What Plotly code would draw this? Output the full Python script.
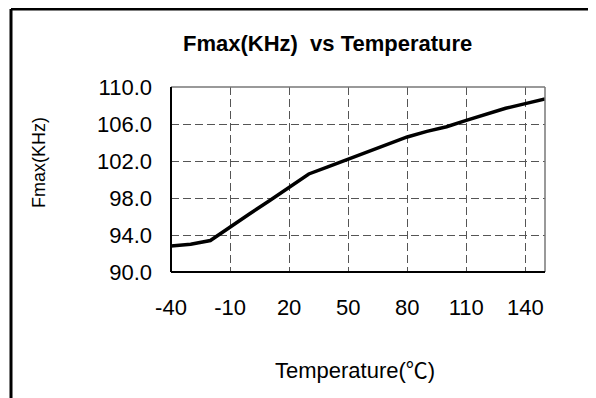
import plotly.graph_objects as go

# ---- data ----
temperature = [-40, -30, -20, -10, 0, 10, 20, 30, 40, 50, 60, 70, 80, 90, 100, 110, 120, 130, 140, 150]
fmax_khz = [92.8, 93.0, 93.4, 94.9, 96.3, 97.7, 99.1, 100.6, 101.4, 102.2,
            103.0, 103.8, 104.6, 105.2, 105.7, 106.4, 107.1, 107.7, 108.2, 108.7]
x_tick_vals = [-40, -10, 20, 50, 80, 110, 140]
x_tick_text = ["-40", "-10", "20", "50", "80", "110", "140"]
y_tick_vals = [90, 94, 98, 102, 106, 110]
y_tick_text = ["90.0", "94.0", "98.0", "102.0", "106.0", "110.0"]

chart_title = "Fmax(KHz)  vs Temperature"
x_title = "Temperature(<span style='font-family:Noto Sans CJK SC'>℃</span>)"
y_title = "Fmax(KHz)"

# ---- layout geometry (page pixels; page body has an 8px margin) ----
OFF = 8
W, H = 596 - OFF, 398 - OFF
L, R, T, B = 171, 545, 87, 272
FONT = "Liberation Sans, Arial, sans-serif"


def px_x(p):
    return (p - L) / (R - L)


def px_y(p):
    return (B - p) / (B - T)


fig = go.Figure()
fig.add_trace(go.Scatter(
    x=temperature, y=fmax_khz, mode="lines",
    line=dict(color="black", width=3.5),
    showlegend=False, hoverinfo="x+y",
))

grid = dict(showgrid=True, gridcolor="#555555", griddash="8px,4px", gridwidth=1)

fig.update_layout(
    width=W, height=H,
    margin=dict(l=L - OFF, r=W - (R - OFF), t=T - OFF, b=H - (B - OFF), pad=0),
    paper_bgcolor="white", plot_bgcolor="white",
    font=dict(family=FONT, color="black", size=22),
    xaxis=dict(range=[-40, 150], tickvals=x_tick_vals, ticktext=x_tick_text, ticks="",
               showline=False, zeroline=False, ticklabelstandoff=20,
               tickfont=dict(size=22), **grid),
    yaxis=dict(range=[90, 110], tickvals=y_tick_vals, ticktext=y_tick_text, ticks="",
               showline=False, zeroline=False, ticklabelstandoff=18,
               tickfont=dict(size=22), **grid),
)

shapes = [
    # top and right plot border (grey)
    dict(type="line", xref="paper", yref="paper", x0=0, x1=1, y0=1, y1=1,
         line=dict(color="#777777", width=1.5)),
    dict(type="line", xref="paper", yref="paper", x0=1, x1=1, y0=0, y1=1,
         line=dict(color="#777777", width=1.5)),
    # left and bottom axes (black)
    dict(type="line", xref="paper", yref="paper", x0=0, x1=0, y0=0, y1=1,
         line=dict(color="black", width=2)),
    dict(type="line", xref="paper", yref="paper", x0=0, x1=1, y0=0, y1=0,
         line=dict(color="black", width=2)),
    # outer chart border (left and top only visible)
    dict(type="line", xref="paper", yref="paper", x0=px_x(11), x1=px_x(11),
         y0=px_y(400), y1=px_y(9), line=dict(color="black", width=3)),
    dict(type="line", xref="paper", yref="paper", x0=px_x(11), x1=px_x(600),
         y0=px_y(9), y1=px_y(9), line=dict(color="black", width=3)),
]
fig.update_layout(shapes=shapes)

fig.add_annotation(text="<b>" + chart_title + "</b>", xref="paper", yref="paper",
                   x=px_x(327), y=px_y(44), showarrow=False,
                   xanchor="center", yanchor="middle",
                   font=dict(size=22, family=FONT))
fig.add_annotation(text=x_title, xref="paper", yref="paper",
                   x=px_x(355), y=px_y(368), showarrow=False,
                   xanchor="center", yanchor="middle",
                   font=dict(size=22, family=FONT))
fig.add_annotation(text=y_title, xref="paper", yref="paper",
                   x=px_x(39), y=px_y(163), showarrow=False, textangle=-90,
                   xanchor="center", yanchor="middle",
                   font=dict(size=18, family=FONT))

fig.write_html("out.html")
